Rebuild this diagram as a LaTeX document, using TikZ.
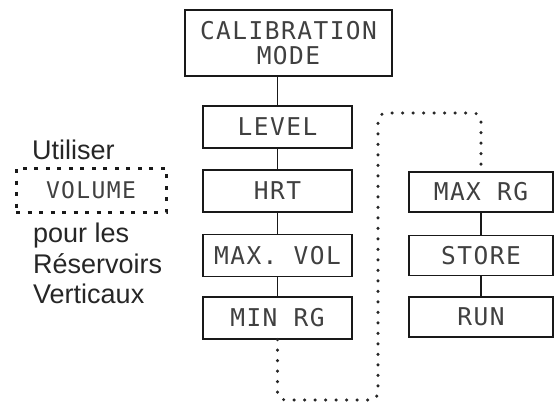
\documentclass[tikz,border=0pt]{standalone}
\usepackage{fontspec}
\setmainfont{Liberation Sans}
\newfontfamily\lcd[LetterSpace=6]{DejaVu Sans Mono}
\begin{document}
\begin{tikzpicture}[x=1pt,y=-1pt,
  box/.style={draw=black!90, line width=1.2pt, minimum width=149pt, minimum height=42pt,
    inner sep=0pt, font=\lcd\fontsize{24.5}{25}\selectfont, text=black!75},
  rbox/.style={box, minimum width=144pt, minimum height=40pt},
  link/.style={draw=black!90, line width=1.2pt},
  dotpath/.style={draw=black!85, line width=3.4pt, line cap=round, dash pattern=on 0pt off 10.5pt},
  label/.style={anchor=base west, inner sep=0pt, font=\fontsize{27}{30}\selectfont, text=black!85}]
\useasboundingbox (0,0) rectangle (557,405);
% left column
\node[box, minimum width=207pt, minimum height=66pt, align=center] (cal) at (288.5,43) {CALIBRATION\\MODE};
\node[box] (level) at (277.5,127) {LEVEL};
\node[box] (hrt) at (277.5,191) {HRT};
\node[box] (maxvol) at (277.5,255.5) {MAX. VOL};
\node[box] (minrg) at (277.5,318) {MIN RG};
% right column
\node[rbox] (maxrg) at (481,192) {MAX RG};
\node[rbox] (store) at (481,255.5) {STORE};
\node[rbox] (run) at (481,317) {RUN};
% links
\draw[link] (level.north |- cal.south) -- (level.north);
\draw[link] (level) -- (hrt);
\draw[link] (hrt) -- (maxvol);
\draw[link] (maxvol) -- (minrg);
\draw[link] (maxrg) -- (store);
\draw[link] (store) -- (run);
% dotted connection
\coordinate (p1) at (378,400);
\coordinate (p2) at (378,113);
\draw[dotpath, rounded corners=8pt] (minrg.south) |- (p1) -- (p2) -| (maxrg.north);
% left annotation
\node[label] (t1) at (32,159) {Utiliser};
\node[draw=black!90, dash pattern=on 4pt off 7.5pt, line width=3pt, minimum width=150pt,
  minimum height=44pt, inner sep=0pt, font=\lcd\fontsize{23}{24}\selectfont, text=black!75] (vol) at (91,190) {VOLUME};
\node[label] (t2) at (33,242) {pour les};
\node[label] (t3) at (33,273) {Réservoirs};
\node[label] (t4) at (33,303) {Verticaux};
\end{tikzpicture}
\end{document}
